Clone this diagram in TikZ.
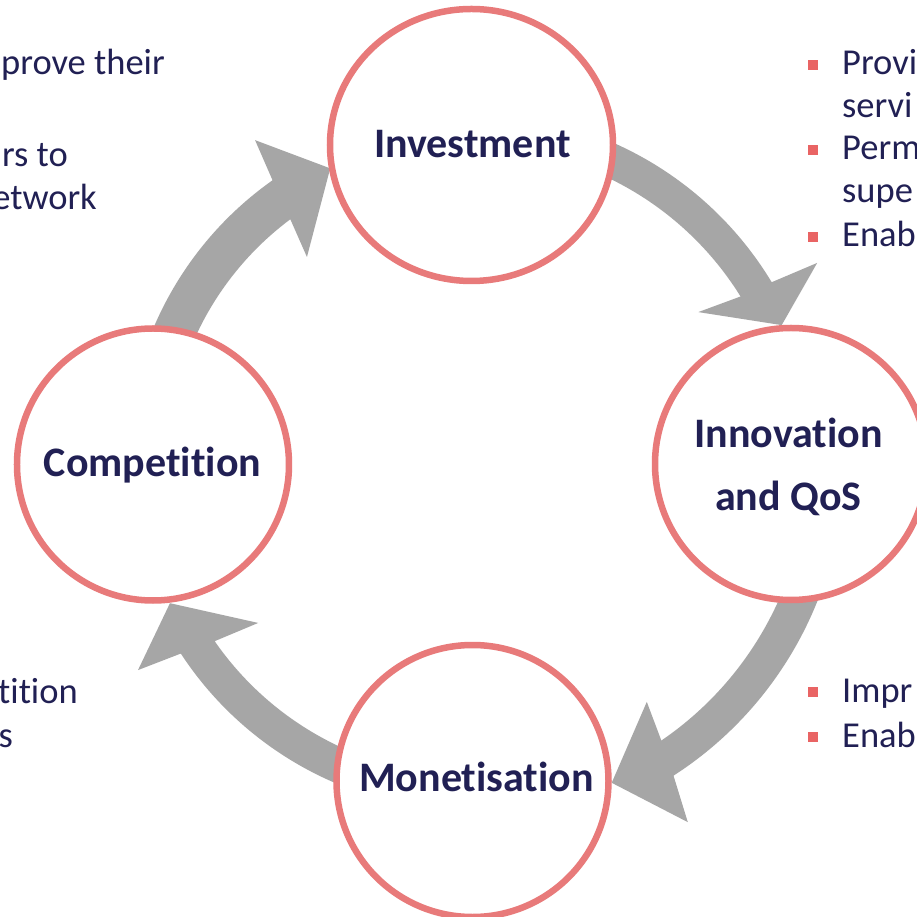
\documentclass[tikz,border=0pt]{standalone}
\usepackage{fontspec}
\setmainfont{Carlito}[Ligatures={NoCommon}]
\usetikzlibrary{shapes.geometric}
\definecolor{ringred}{HTML}{E87A7A}
\definecolor{bulletred}{HTML}{E96464}
\definecolor{navy}{HTML}{212054}
\definecolor{flowgray}{HTML}{A6A6A6}
% square list marker followed by the hanging indent
\newcommand\bulsq{{\color{bulletred}\rule[5pt]{10pt}{10pt}}\hspace{24pt}}

\begin{document}
\begin{tikzpicture}[x=1pt,y=1pt,
  ring/.style={circle, draw=ringred, line width=6.5pt, fill=white,
    inner sep=0pt, minimum size=272pt},
  stagelabel/.style={font=\fontsize{42}{50}\selectfont\bfseries, text=navy,
    inner sep=0pt, anchor=base},
  sidetext/.style={font=\fontsize{36.5}{43}\selectfont, text=navy, inner sep=0pt},
  flow/.style={fill=flowgray}]

\fill[white] (-472,-454) rectangle (444,463);
\useasboundingbox (-472,-454) rectangle (444,463);

% the cycle is laid out around the origin
\coordinate (hub) at (0,0);

% curved block arrows (polar coordinates about the hub)
\fill[flow] (75:350) arc[start angle=75, end angle=31.1, radius=350]
  -- (30.1:399) -- (24:339) -- (33.7:272) -- (31.8:316)
  arc[start angle=31.8, end angle=75, radius=316] -- cycle;
\fill[flow] (-10:372) arc[start angle=-10, end angle=-57.2, radius=372]
  -- (-59:419) -- (-66.4:349) -- (-53.8:296) -- (-55.7:336)
  arc[start angle=-55.7, end angle=-10, radius=336] -- cycle;
\fill[flow] (255:348) arc[start angle=255, end angle=213.2, radius=348]
  -- (211.8:393) -- (204.9:333) -- (216.8:267) -- (214.7:313)
  arc[start angle=214.7, end angle=255, radius=313] -- cycle;
\fill[flow] (165:346) arc[start angle=165, end angle=125.2, radius=346]
  -- (123.9:389) -- (115.7:327) -- (128.7:264) -- (126.7:304)
  arc[start angle=126.7, end angle=165, radius=304] -- cycle;

% stages
\node[ring, ellipse, minimum width=283pt, minimum height=272pt] (inv) at (-0.5,318) {};
\node[ring] (inn) at (319,-1) {};
\node[ring] (mon) at (0.5,-318) {};
\node[ring] (com) at (-319,-1.5) {};

\node[stagelabel] (invT) at ([shift={(1,-13)}]inv.center) {Investment};
\node[stagelabel] (innT1) at ([shift={(-2.5,16)}]inn.center) {Innovation};
\node[stagelabel] (innT2) at ([shift={(-2.5,-47)}]inn.center) {and QoS};
\node[stagelabel] (monT) at ([shift={(4,-10)}]mon.center) {Monetisation};
\node[stagelabel] (comT) at ([shift={(-0.5,-12)}]com.center) {Competition};

% side notes, left
\node[sidetext, anchor=base east] (l1) at (-307,388) {prove their};
\node[sidetext, anchor=base east] (l2) at (-404,296) {rs to};
\node[sidetext, anchor=base east] (l3) at (-375,253) {etwork};
\node[sidetext, anchor=base east] (l4) at (-394,-240) {tition};
\node[sidetext, anchor=base east] (l5) at (-459,-284) {s};

% side notes, right
\node[sidetext, anchor=base west] (r1) at (336,388) {\bulsq Provi};
\node[sidetext, anchor=base west] (r2) at (370,345) {servi};
\node[sidetext, anchor=base west] (r3) at (336,303) {\bulsq Perm};
\node[sidetext, anchor=base west] (r4) at (370,260) {supe};
\node[sidetext, anchor=base west] (r5) at (336,216) {\bulsq Enab};
\node[sidetext, anchor=base west] (r6) at (336,-239) {\bulsq Impr};
\node[sidetext, anchor=base west] (r7) at (336,-284) {\bulsq Enab};
\end{tikzpicture}
\end{document}
